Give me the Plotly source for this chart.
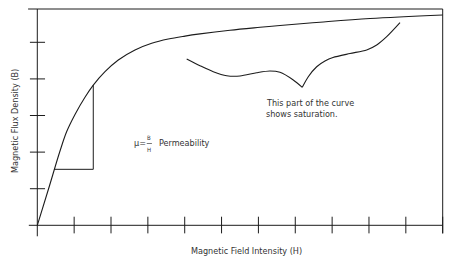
import plotly.graph_objects as go

# Main B-H curve (H, B)
curve_H = [0, 0.304, 0.616, 0.798, 1.023, 1.294, 1.519, 1.837, 2.198, 2.651, 3.104, 3.554, 4.008, 4.415, 5.229, 6.043, 6.585, 7.670, 9.028, 11.0]
curve_B = [0, 0.992, 2.030, 2.563, 3.030, 3.500, 3.830, 4.197, 4.516, 4.790, 4.973, 5.090, 5.170, 5.230, 5.330, 5.410, 5.460, 5.550, 5.650, 5.746]

# Permeability triangle
tri_H = [0.453, 1.519, 1.519]
tri_B = [1.530, 1.530, 3.830]

# Wavy "saturation" indicator curve: before and after the cusp
wave1_H = [4.054, 4.415, 4.775, 5.139, 5.500, 5.953, 6.314, 6.585, 6.946, 7.190]
wave1_B = [4.544, 4.361, 4.197, 4.087, 4.079, 4.169, 4.216, 4.180, 3.970, 3.770]
wave2_H = [7.190, 7.353, 7.581, 7.806, 8.023, 8.485, 8.938, 9.209, 9.481, 9.842]
wave2_B = [3.770, 4.060, 4.333, 4.489, 4.585, 4.694, 4.790, 4.926, 5.153, 5.536]

# Tick positions
x_ticks = [1, 2, 3, 4, 5, 6, 7, 8, 9, 10, 11]
y_ticks = [1, 2, 3, 4, 5]

H_MAX = 11.0
B_TOP = 5.91

LINE = "#1c1c1c"
TXT = "#333333"
FONT = "Liberation Sans Narrow, DejaVu Sans Condensed, Arial Narrow, sans-serif"

fig = go.Figure()

def seg(xs, ys, w=1.0):
    fig.add_trace(go.Scatter(x=xs, y=ys, mode="lines",
                             line=dict(color=LINE, width=w),
                             hoverinfo="skip", showlegend=False))

# frame: top line, y axis, x axis, right border
seg([-0.25, H_MAX], [B_TOP, B_TOP])
seg([0, 0], [B_TOP, -0.3])
seg([-0.23, H_MAX], [0, 0])
seg([H_MAX, H_MAX], [B_TOP, -0.22])

# tick marks crossing axes
tx, ty = [], []
for t in x_ticks:
    tx += [t, t, None]
    ty += [0.235, -0.22, None]
seg(tx, ty)
tx, ty = [], []
for t in y_ticks:
    tx += [-0.2, 0.21, None]
    ty += [t, t, None]
seg(tx, ty)

# curves
fig.add_trace(go.Scatter(x=curve_H, y=curve_B, mode="lines",
                         line=dict(color=LINE, width=1.1, shape="spline", smoothing=1.0),
                         hoverinfo="skip", showlegend=False))
seg(tri_H, tri_B)
for hx, by in ((wave1_H, wave1_B), (wave2_H, wave2_B)):
    fig.add_trace(go.Scatter(x=hx, y=by, mode="lines",
                             line=dict(color=LINE, width=1.1, shape="spline", smoothing=0.8),
                             hoverinfo="skip", showlegend=False))

def note(x, y, text, size=9, angle=0, xanchor="center"):
    fig.add_annotation(x=x, y=y, text=text, showarrow=False, textangle=angle,
                       xanchor=xanchor, yanchor="middle",
                       font=dict(family=FONT, size=size, color=TXT))

note(6.16, 3.35, "This part of the curve", xanchor="left")
note(6.16, 3.04, "shows saturation.", xanchor="left")
note(2.56, 2.24, "μ=", xanchor="left")
note(3.04, 2.40, "B", size=6)
note(3.04, 2.06, "H", size=6)
seg([2.97, 3.11], [2.235, 2.235], w=0.6)
note(3.25, 2.24, "Permeability", xanchor="left")
note(5.69, -0.70, "Magnetic Field Intensity (H)")
note(-0.605, 2.85, "Magnetic Flux Density (B)", angle=-90)

fig.update_layout(
    width=454, height=261,
    margin=dict(l=0, r=0, t=0, b=0),
    paper_bgcolor="white", plot_bgcolor="white",
    xaxis=dict(range=[-1.012, 11.307], visible=False, fixedrange=True),
    yaxis=dict(range=[-0.975, 6.156], visible=False, fixedrange=True),
)

fig.write_html("out.html")
